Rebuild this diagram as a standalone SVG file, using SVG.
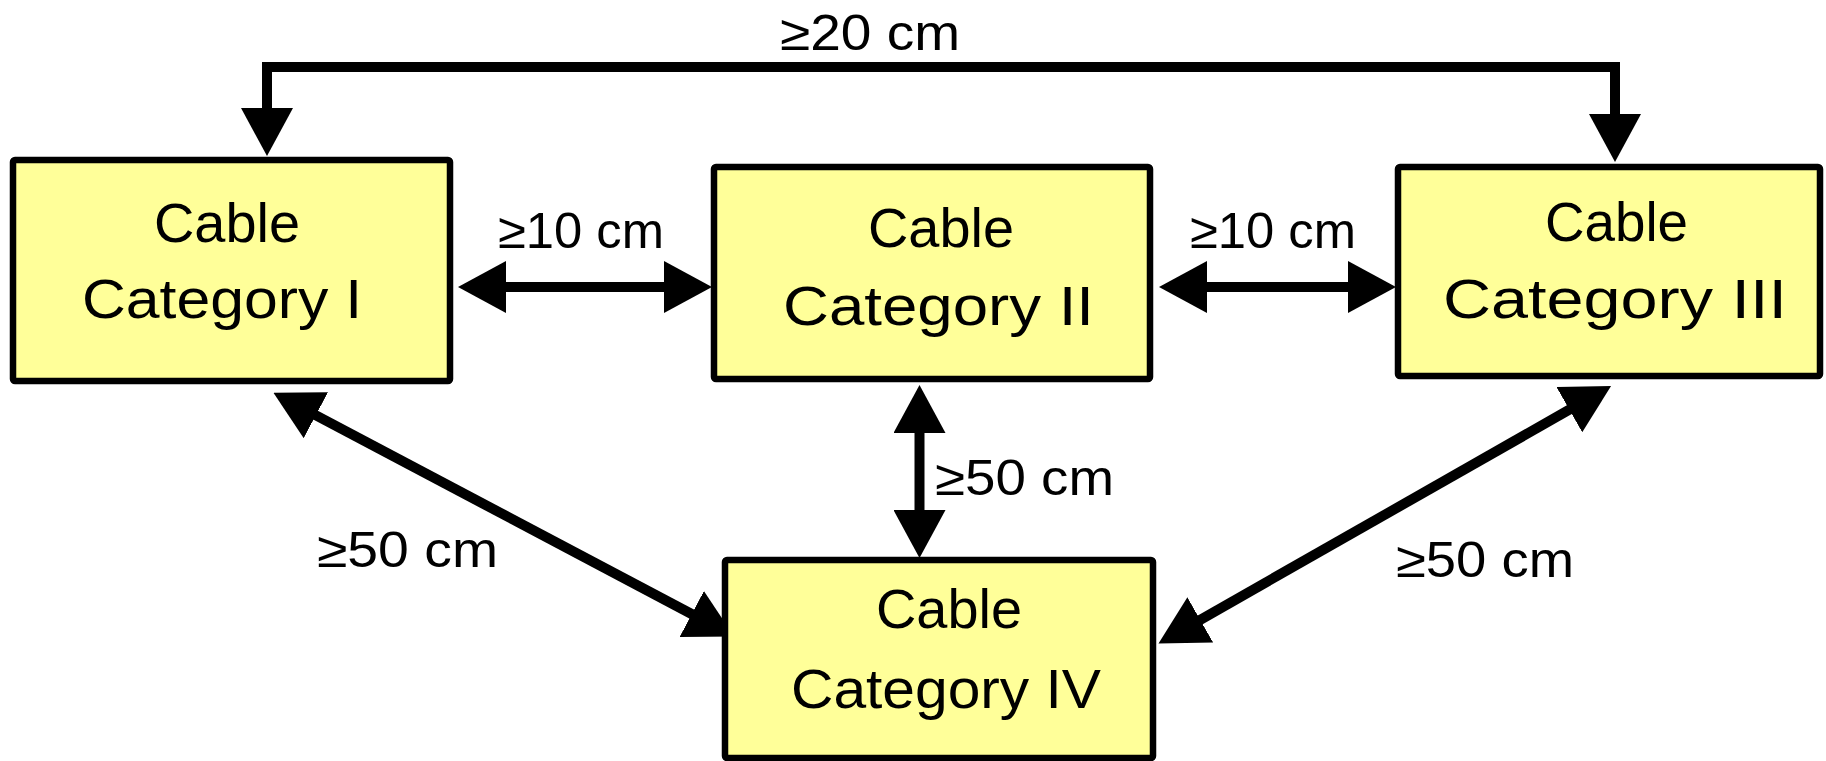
<svg xmlns="http://www.w3.org/2000/svg" width="1826" height="761" viewBox="0 0 1826 761">
  <style>
    .box { fill: #FFFF99; stroke: #000; stroke-width: 6.5; }
    .t { font-family: "Liberation Sans", "DejaVu Sans", sans-serif; font-size: 56px; fill: #000; }
    .lbl { font-family: "Liberation Sans", "DejaVu Sans", sans-serif; font-size: 50px; fill: #000; }
    .conn { fill: none; stroke: #000; stroke-width: 10; stroke-linejoin: miter; }
  </style>
  <defs>
    <marker id="ah" viewBox="0 0 48 52" markerWidth="48" markerHeight="52" refX="2" refY="26" orient="auto-start-reverse" markerUnits="userSpaceOnUse">
      <path d="M0,0 L48,26 L0,52 Z" fill="#000"/>
    </marker>
  </defs>
  <rect width="1826" height="761" fill="#fff"/>

  <g id="connectors">
    <path class="conn" d="M267,110 V67 H1615 V116" marker-start="url(#ah)" marker-end="url(#ah)"/>
    <path class="conn" d="M504,287 H666" marker-start="url(#ah)" marker-end="url(#ah)"/>
    <path class="conn" d="M1205,287 H1350" marker-start="url(#ah)" marker-end="url(#ah)"/>
    <path class="conn" d="M919.5,431 V512" marker-start="url(#ah)" marker-end="url(#ah)"/>
    <path class="conn" d="M314.1,414.3 L693.5,615" marker-start="url(#ah)" marker-end="url(#ah)"/>
    <path class="conn" d="M1198.5,620.8 L1571.1,408.7" marker-start="url(#ah)" marker-end="url(#ah)"/>
  </g>

  <g id="labels">
    <text class="lbl" x="780" y="50" textLength="180" lengthAdjust="spacingAndGlyphs">≥20 cm</text>
    <text class="lbl" x="498" y="248" textLength="166" lengthAdjust="spacingAndGlyphs">≥10 cm</text>
    <text class="lbl" x="1190" y="248" textLength="166" lengthAdjust="spacingAndGlyphs">≥10 cm</text>
    <text class="lbl" x="935" y="495" textLength="179" lengthAdjust="spacingAndGlyphs">≥50 cm</text>
    <text class="lbl" x="317" y="567" textLength="181" lengthAdjust="spacingAndGlyphs">≥50 cm</text>
    <text class="lbl" x="1396" y="577" textLength="178" lengthAdjust="spacingAndGlyphs">≥50 cm</text>
  </g>

  <g id="node-cat1">
    <rect class="box" x="13" y="160" width="437" height="221" rx="2"/>
    <text class="t" x="154" y="242" textLength="146" lengthAdjust="spacingAndGlyphs">Cable</text>
    <text class="t" x="82" y="318" textLength="280" lengthAdjust="spacingAndGlyphs">Category I</text>
  </g>
  <g id="node-cat2">
    <rect class="box" x="714" y="167" width="436" height="212" rx="2"/>
    <text class="t" x="868" y="247" textLength="146" lengthAdjust="spacingAndGlyphs">Cable</text>
    <text class="t" x="783" y="325" textLength="311" lengthAdjust="spacingAndGlyphs">Category II</text>
  </g>
  <g id="node-cat3">
    <rect class="box" x="1398" y="167" width="422" height="209" rx="2"/>
    <text class="t" x="1545" y="241" textLength="143" lengthAdjust="spacingAndGlyphs">Cable</text>
    <text class="t" x="1443" y="318" textLength="344" lengthAdjust="spacingAndGlyphs">Category III</text>
  </g>
  <g id="node-cat4">
    <rect class="box" x="725" y="560" width="428" height="198" rx="2"/>
    <text class="t" x="876" y="628" textLength="146" lengthAdjust="spacingAndGlyphs">Cable</text>
    <text class="t" x="791" y="708" textLength="310" lengthAdjust="spacingAndGlyphs">Category IV</text>
  </g>
</svg>
